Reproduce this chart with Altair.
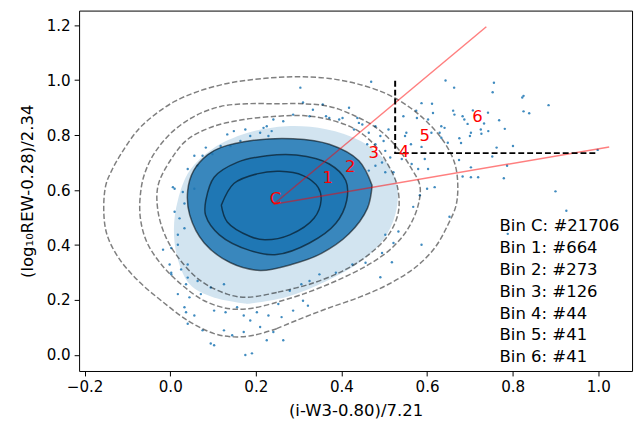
import altair as alt
import pandas as pd

BLUE = "#1f77b4"
FONT = "DejaVu Sans"

# ---- density contours (closed curves) ----
D1_x = [0.2486, 0.1948, 0.1486, 0.1025, 0.0408, -0.0208, -0.0745, -0.1207, -0.1477, -0.1553, -0.1507, -0.1369, -0.1131, -0.0745, -0.036, 0.0102, 0.0639, 0.1332, 0.1948, 0.2486, 0.3102, 0.3716, 0.4332, 0.5024, 0.5562, 0.6024, 0.6409, 0.664, 0.6716, 0.6679, 0.6485, 0.6178, 0.5717, 0.51, 0.4408, 0.364, 0.2947, 0.2486]
D1_y = [0.0959, 0.0719, 0.0661, 0.078, 0.1258, 0.1976, 0.2695, 0.3536, 0.4373, 0.521, 0.617, 0.671, 0.7366, 0.8207, 0.8746, 0.9224, 0.9583, 0.9881, 1.0025, 1.0097, 1.0122, 1.0061, 0.9881, 0.9522, 0.9044, 0.8444, 0.7725, 0.7007, 0.6288, 0.5451, 0.4732, 0.3895, 0.3176, 0.2576, 0.2098, 0.1678, 0.1258, 0.0959]
D2_x = [0.2486, 0.1948, 0.1408, 0.0794, 0.0254, -0.0208, -0.0554, -0.0706, -0.0669, -0.055, -0.036, 0.0023, 0.0563, 0.1177, 0.1793, 0.2486, 0.3102, 0.3716, 0.4332, 0.487, 0.5331, 0.5641, 0.5832, 0.5793, 0.5562, 0.5179, 0.4639, 0.387, 0.3102, 0.2486]
D2_y = [0.1919, 0.1714, 0.1678, 0.1976, 0.2576, 0.3295, 0.4132, 0.5092, 0.617, 0.68, 0.7366, 0.8085, 0.8685, 0.9044, 0.9141, 0.9141, 0.9141, 0.9044, 0.8685, 0.8207, 0.7488, 0.677, 0.617, 0.5451, 0.4614, 0.3895, 0.3295, 0.2695, 0.2217, 0.1919]
D3_x = [0.2486, 0.1793, 0.1332, 0.0715, 0.0254, -0.0092, -0.0284, -0.0284, 0.0023, 0.0408, 0.1025, 0.1717, 0.2486, 0.3102, 0.3716, 0.4332, 0.4794, 0.51, 0.5301, 0.5331, 0.51, 0.4639, 0.4025, 0.3254, 0.2486]
D3_y = [0.2278, 0.2098, 0.2217, 0.2695, 0.3414, 0.4254, 0.521, 0.617, 0.7129, 0.7848, 0.8325, 0.8566, 0.8685, 0.871, 0.8566, 0.8207, 0.7607, 0.6888, 0.617, 0.521, 0.4373, 0.3654, 0.3054, 0.2576, 0.2278]
S1_x = [0.4717, 0.4609, 0.4177, 0.3524, 0.2832, 0.21, 0.1408, 0.0794, 0.0455, 0.0408, 0.0547, 0.087, 0.1177, 0.1948, 0.2871, 0.3716, 0.4408, 0.4717]
S1_y = [0.617, 0.5343, 0.4409, 0.369, 0.3295, 0.3079, 0.3356, 0.4075, 0.5092, 0.599, 0.6709, 0.7283, 0.7546, 0.7812, 0.7869, 0.7668, 0.7068, 0.617]
S2_x = [0.0831, 0.1025, 0.1562, 0.2255, 0.2947, 0.3716, 0.4101, 0.4124, 0.387, 0.3254, 0.2486, 0.1869, 0.1147, 0.0824, 0.0831]
S2_y = [0.5631, 0.6468, 0.7007, 0.7248, 0.7273, 0.6949, 0.6349, 0.5631, 0.4793, 0.4075, 0.3654, 0.3798, 0.4373, 0.5092, 0.5631]
S3_x = [0.1193, 0.1332, 0.1869, 0.2209, 0.2793, 0.3363, 0.3524, 0.3455, 0.3102, 0.2562, 0.2024, 0.1486, 0.1193]
S3_y = [0.5451, 0.484, 0.4312, 0.4193, 0.4373, 0.4984, 0.5631, 0.6098, 0.6529, 0.6683, 0.659, 0.6241, 0.5451]

# ---- extent of the moderately dense speckle around the core ----
HALO_x = [0.1793, 0.0985, 0.0455, 0.0178, 0.0085, 0.0178, 0.0455, 0.0985, 0.1793, 0.2716, 0.364, 0.4447, 0.5024, 0.5301, 0.5255, 0.4978, 0.4447, 0.364, 0.2716, 0.1793]
HALO_y = [0.1858, 0.2109, 0.2576, 0.3475, 0.4553, 0.5631, 0.6709, 0.7499, 0.8074, 0.8325, 0.8218, 0.7787, 0.7068, 0.617, 0.5092, 0.4193, 0.3403, 0.2684, 0.2109, 0.1858]

# ---- individual sources outside the dense core ----
PTS_x = [0.4694, 0.6432, 0.6633, 0.7563, 0.7533, 0.8255, 0.8225, 0.8839, 0.6116, 0.661, 0.7424, 0.8255, 0.8387, 0.5747, 0.5763, 0.6831, 0.6871, 0.7071, 0.7685, 0.7332,
         0.7256, 0.7817, 0.7025, 0.727, 0.7002, 0.6755, 0.6409, 0.6294, 0.6333, 0.5447, 0.5516, 0.5624, 0.6139, 0.8008, 0.7625, 0.7025, 0.787, 0.6831, 0.7025, 0.7194,
         0.7794, 0.9001, 0.9986, 0.5871, 0.9255, 0.7886, 0.7524, 0.6748, 0.6794, 0.7431, 0.6947, 0.5871, 0.5179, 0.4909, 0.6524, 0.5832, 0.6001, 0.6178, 0.5677, 0.5331,
         0.5024, 0.5216, 0.4948, 0.4563, 0.4256, 0.387, 0.3485, 0.3254, 0.3063, 0.2793, 0.3102, 0.3217, 0.264, 0.2525, 0.2601, 0.2871, 0.0946, 0.1025, 0.1255, 0.1447,
         0.1717, 0.1869, 0.2255, 0.21, 0.2409, 0.0755, 0.0408, 0.0563, 0.0332, 0.0448, 0.0178, 0.0715, 0.0946, 0.1255, 0.1025, 0.1292, 0.1562, 0.1717, 0.2024, 0.2294,
         0.0023, -0.0014, 0.0254, 0.0408, 0.0639, 0.0369, 0.0178, 0.0023, -0.0168, 0.0178, 0.0332, 0.0217, 0.0102, 0.0332, 0.0293, 0.0062, 0.0563, 0.0408, 0.1754, 0.1909,
         0.0369, 0.0023, 0.0408, 0.0639, 0.0755, 0.0985, 0.1177, 0.1408, 0.1639, 0.1869, 0.21, 0.2179, 0.2294, 0.237, 0.2255, 0.304, 0.3102, 0.3563, 0.3333, 0.4177,
         0.2871, 0.1754, 0.264, 0.2409, 0.3254, 0.3716, 0.3947, 0.4371, 0.4487, 0.4639, 0.1332, 0.1486, 0.0831, 0.0563, 0.0102, 0.364, 0.4025, 0.4408, 0.4293, 0.4794,
         0.4909, 0.4985, 0.4794, 0.4602, 0.51, 0.5024, 0.514, 0.4948, 0.4794, 0.4639, 0.5024, 0.5216, 0.541, 0.5641, 0.5793, 0.6024, 0.5947, 0.5486, 0.5871, 0.6024,
         0.6102, 0.6333, 0.6485, 0.664]
PTS_y = [0.9942, 0.9989, 0.9727, 0.9906, 0.9558, 0.9429, 0.9368, 0.9091, 0.9141, 0.889, 0.8818, 0.8864, 0.8793, 0.889, 0.8624, 0.8685, 0.8566, 0.89, 0.8541, 0.8423,
         0.8207, 0.8228, 0.8085, 0.8049, 0.7966, 0.7884, 0.8264, 0.8085, 0.7905, 0.8685, 0.8085, 0.7668, 0.8803, 0.7607, 0.7546, 0.6827, 0.6888, 0.6493, 0.6468, 0.6468,
         0.6432, 0.5954, 0.7463, 0.7571, 0.5246, 0.4409, 0.7222, 0.7093, 0.7715, 0.8146, 0.8408, 0.4014, 0.3378, 0.2828, 0.503, 0.581, 0.6051, 0.6108, 0.539, 0.4492,
         0.4373, 0.4075, 0.3715, 0.3356, 0.3295, 0.2997, 0.2936, 0.2695, 0.2576, 0.2336, 0.1976, 0.1797, 0.0539, 0.1858, 0.138, 0.1617, 0.042, 0.0359, 0.0898, 0.0719,
         0.0841, 0.1258, 0.0539, 0.102, 0.0841, 0.0898, 0.1139, 0.1437, 0.1739, 0.2098, 0.2217, 0.2217, 0.2458, 0.2576, 0.1617, 0.1559, 0.1739, 0.1437, 0.1559, 0.1437,
         0.2997, 0.3295, 0.3115, 0.2817, 0.2695, 0.2576, 0.4014, 0.3895, 0.3834, 0.4373, 0.4614, 0.4973, 0.521, 0.5512, 0.5929, 0.6108, 0.6051, 0.3295, 0.0, 0.0061,
         0.1559, 0.2936, 0.677, 0.6888, 0.7248, 0.7309, 0.7607, 0.7607, 0.7787, 0.7966, 0.8085, 0.8264, 0.7966, 0.8146, 0.8325, 0.9727, 0.9188, 0.9116, 0.8925, 0.8997,
         0.8746, 0.8207, 0.8505, 0.8566, 0.8685, 0.8624, 0.8566, 0.8624, 0.8387, 0.8085, 0.8027, 0.8146, 0.7546, 0.7248, 0.6051, 0.8685, 0.8624, 0.8444, 0.8207, 0.8325,
         0.7966, 0.7787, 0.7668, 0.7668, 0.8207, 0.7427, 0.7186, 0.7007, 0.6888, 0.6709, 0.6647, 0.6647, 0.7129, 0.6949, 0.677, 0.677, 0.7129, 0.7966, 0.9163, 0.8566,
         0.8085, 0.8325, 0.7725, 0.8746]

# ---- annotations ----
CENTER = (0.2416, 0.5487)
RAY_END_x = [0.7385, 1.0256]
RAY_END_y = [1.1944, 0.7571]
CUT_x = [0.5255, 0.5255, 0.9947]
CUT_y = [0.9978, 0.7345, 0.7345]
BIN_NAMES = ["C", "1", "2", "3", "4", "5", "6"]
BIN_LABEL_x = [0.2462, 0.3679, 0.4205, 0.4754, 0.5463, 0.5947, 0.7178]
BIN_LABEL_y = [0.5667, 0.6432, 0.6842, 0.7345, 0.7366, 0.7966, 0.8649]
BIN_COUNTS = [21706, 664, 273, 126, 44, 41, 41]

X_TICKS = [-0.2, 0.0, 0.2, 0.4, 0.6, 0.8, 1.0]
Y_TICKS = [0.0, 0.2, 0.4, 0.6, 0.8, 1.0, 1.2]

xscale = alt.Scale(domain=[-0.213, 1.079], nice=False, zero=False)
yscale = alt.Scale(domain=[-0.058, 1.253], nice=False, zero=False)
label_expr = "replace(format(datum.value, '.1f'), '-', '\u2212')"
common_axis = dict(grid=False, domain=False, tickColor="black", tickSize=5, tickWidth=1,
                   labelFont=FONT, labelFontSize=15.3, labelColor="black",
                   titleFont=FONT, titleFontSize=16.7, titleFontWeight="normal", titleColor="black",
                   labelExpr=label_expr)
X = alt.X("x:Q", scale=xscale,
          axis=alt.Axis(values=X_TICKS, labelPadding=4, titlePadding=8, **common_axis),
          title="(i-W3-0.80)/7.21")
Y = alt.Y("y:Q", scale=yscale,
          axis=alt.Axis(values=Y_TICKS, labelPadding=4, titlePadding=10, **common_axis),
          title="(log\u2081\u2080REW-0.28)/2.34")


def poly(xs, ys):
    return pd.DataFrame({"x": xs, "y": ys, "i": list(range(len(xs)))})


def fill_layer(xs, ys, opacity):
    return alt.Chart(poly(xs, ys)).mark_line(filled=True, color=BLUE, opacity=opacity,
                                              interpolate="catmull-rom").encode(
        x=X, y=Y, order="i:Q")


def contour_layer(xs, ys, dashed, opacity):
    kw = dict(color="black", strokeWidth=1.5, opacity=opacity, interpolate="catmull-rom")
    if dashed:
        kw["strokeDash"] = [5.5, 2.5]
    return alt.Chart(poly(xs, ys)).mark_line(**kw).encode(x=X, y=Y, order="i:Q")


halo = fill_layer(HALO_x, HALO_y, 0.2)
dense = fill_layer(S1_x, S1_y, 0.85)
core = fill_layer(S2_x, S2_y, 1.0)

points = alt.Chart(pd.DataFrame({"x": PTS_x, "y": PTS_y})).mark_circle(
    size=6, color=BLUE, opacity=0.85).encode(x=X, y=Y)

contours = [contour_layer(D1_x, D1_y, True, 0.5),
            contour_layer(D2_x, D2_y, True, 0.5),
            contour_layer(D3_x, D3_y, True, 0.5),
            contour_layer(S1_x, S1_y, False, 0.55),
            contour_layer(S2_x, S2_y, False, 0.55),
            contour_layer(S3_x, S3_y, False, 0.55)]

rays_df = pd.DataFrame({"x": [CENTER[0]] * 2, "y": [CENTER[1]] * 2, "x2": RAY_END_x, "y2": RAY_END_y})
rays = alt.Chart(rays_df).mark_rule(color="red", opacity=0.5, strokeWidth=1.5).encode(
    x=X, y=Y, x2="x2:Q", y2="y2:Q")

cut = alt.Chart(poly(CUT_x, CUT_y)).mark_line(color="black", strokeWidth=2, strokeDash=[6, 3]).encode(
    x=X, y=Y, order="i:Q")

labels = alt.Chart(pd.DataFrame({"x": BIN_LABEL_x, "y": BIN_LABEL_y, "t": BIN_NAMES})).mark_text(
    color="red", font=FONT, fontSize=16.7, align="center", baseline="middle").encode(x=X, y=Y, text="t:N")

legend_text = "\n".join(f"Bin {n}: #{c}" for n, c in zip(BIN_NAMES, BIN_COUNTS))
legend = alt.Chart(pd.DataFrame({"t": [legend_text]})).mark_text(
    color="black", font=FONT, fontSize=16.7, align="left", baseline="middle",
    lineBreak="\n", lineHeight=22.2).encode(
    x=alt.datum(0.7694, type="quantitative", scale=xscale),
    y=alt.datum(0.4696, type="quantitative", scale=yscale),
    text="t:N")

chart = alt.layer(halo, dense, core, points, *contours, rays, cut, labels, legend).properties(
    width=560, height=365,
    autosize=alt.AutoSizeParams(type="none"),
    padding={"left": 72, "top": 0, "right": 4, "bottom": 46},
).configure_view(stroke="black", strokeWidth=1)

chart.save("out.html", embed_options={"renderer": "svg", "actions": False})
